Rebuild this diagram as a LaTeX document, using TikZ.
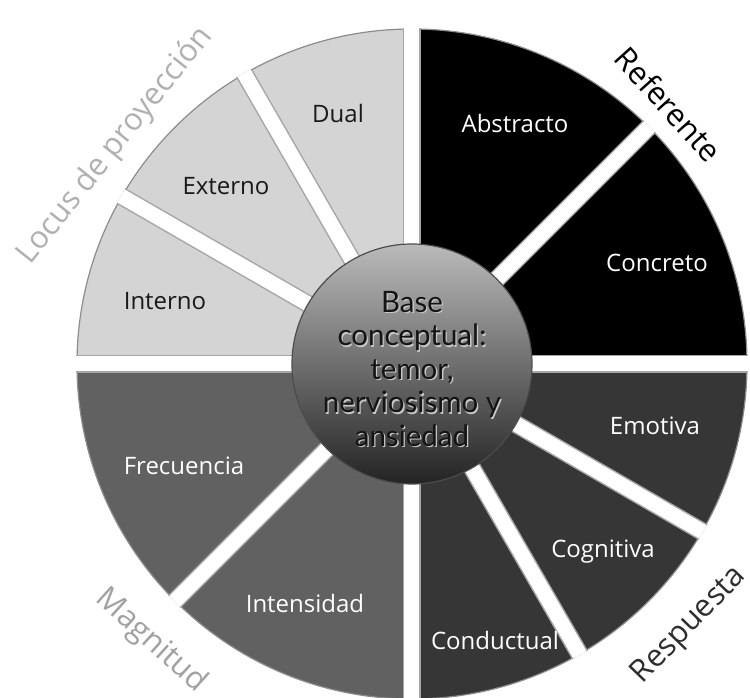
\documentclass[tikz,border=0pt]{standalone}
\usepackage{fontspec}
\setmainfont{Open Sans}
\newfontfamily\corefont{Lato}
\usepackage{tikz}

\begin{document}
\begin{tikzpicture}[
  x=1pt, y=1pt,
  locus/.style={fill=black!17},
  referente/.style={fill=black},
  respuesta/.style={fill=black!79},
  magnitud/.style={fill=black!62},
  rim/.style={draw=black!45, line width=1.2pt},
  gap/.style={white, line width=15pt, preaction={draw=black!35, line width=18pt}},
  seglabel/.style={font=\fontsize{24}{28}\selectfont, inner sep=0pt, text height=17pt, text depth=0pt},
  grouplabel/.style={font=\fontsize{31}{36}\selectfont, inner sep=0pt, text height=22pt, text depth=0pt},
  core/.style={circle, minimum size=240pt, inner sep=0pt, top color=black!27, bottom color=black!86, draw=black!70, line width=1.2pt},
  coretext/.style={align=center, font=\corefont\fontsize{29.5}{33.5}\selectfont}
]
\useasboundingbox (-412,-334) rectangle (338,364);

% four quadrants of the wheel
\fill[referente] (0,0) -- (0:335) arc[start angle=0, end angle=90, radius=335] -- cycle;
\fill[locus] (0,0) -- (90:335) arc[start angle=90, end angle=180, radius=335] -- cycle;
\fill[magnitud] (0,0) -- (180:335) arc[start angle=180, end angle=270, radius=335] -- cycle;
\fill[respuesta] (0,0) -- (270:335) arc[start angle=270, end angle=360, radius=335] -- cycle;
\draw[rim] (0,0) circle[radius=335];

% white gaps between the slices
\draw[gap] (0,0) -- (0:336);
\draw[gap] (0,0) -- (45:336);
\draw[gap] (0,0) -- (90:336);
\draw[gap] (0,0) -- (120:336);
\draw[gap] (0,0) -- (150:336);
\draw[gap] (0,0) -- (180:336);
\draw[gap] (0,0) -- (225:336);
\draw[gap] (0,0) -- (270:336);
\draw[gap] (0,0) -- (300:336);
\draw[gap] (0,0) -- (330:336);

% centre
\node[core] (core) at (0,0) {};
\node[coretext, text=black!22] (coreglow) at (1.3,-6.3) {Base\\conceptual:\\temor,\\nerviosismo y\\ansiedad};
\node[coretext, text=black!92] (coretitle) at (0,-5) {Base\\conceptual:\\temor,\\nerviosismo y\\ansiedad};

% slice labels
\node[seglabel, text=black!90] (dual) at (-74,250) {Dual};
\node[seglabel, text=black!90] (externo) at (-186,178) {Externo};
\node[seglabel, text=black!90] (interno) at (-247,63) {Interno};
\node[seglabel, text=white] (abstracto) at (103,240) {Abstracto};
\node[seglabel, text=white] (concreto) at (245,101) {Concreto};
\node[seglabel, text=white] (emotiva) at (243,-62) {Emotiva};
\node[seglabel, text=white] (cognitiva) at (191,-185) {Cognitiva};
\node[seglabel, text=white] (conductual) at (83,-277) {Conductual};
\node[seglabel, text=white] (intensidad) at (-107,-240) {Intensidad};
\node[seglabel, text=white] (frecuencia) at (-228,-102) {Frecuencia};

% group labels
\node[grouplabel, text=black!31, rotate=51.5] (locuslab) at (-299,220) {Locus de proyección};
\node[grouplabel, text=black, rotate=-48] (referentelab) at (256,259) {Referente};
\node[grouplabel, text=black!82, rotate=46] (respuestalab) at (275,-259) {Respuesta};
\node[grouplabel, text=black!37, rotate=-42] (magnitudlab) at (-259,-275) {Magnitud};
\end{tikzpicture}
\end{document}
